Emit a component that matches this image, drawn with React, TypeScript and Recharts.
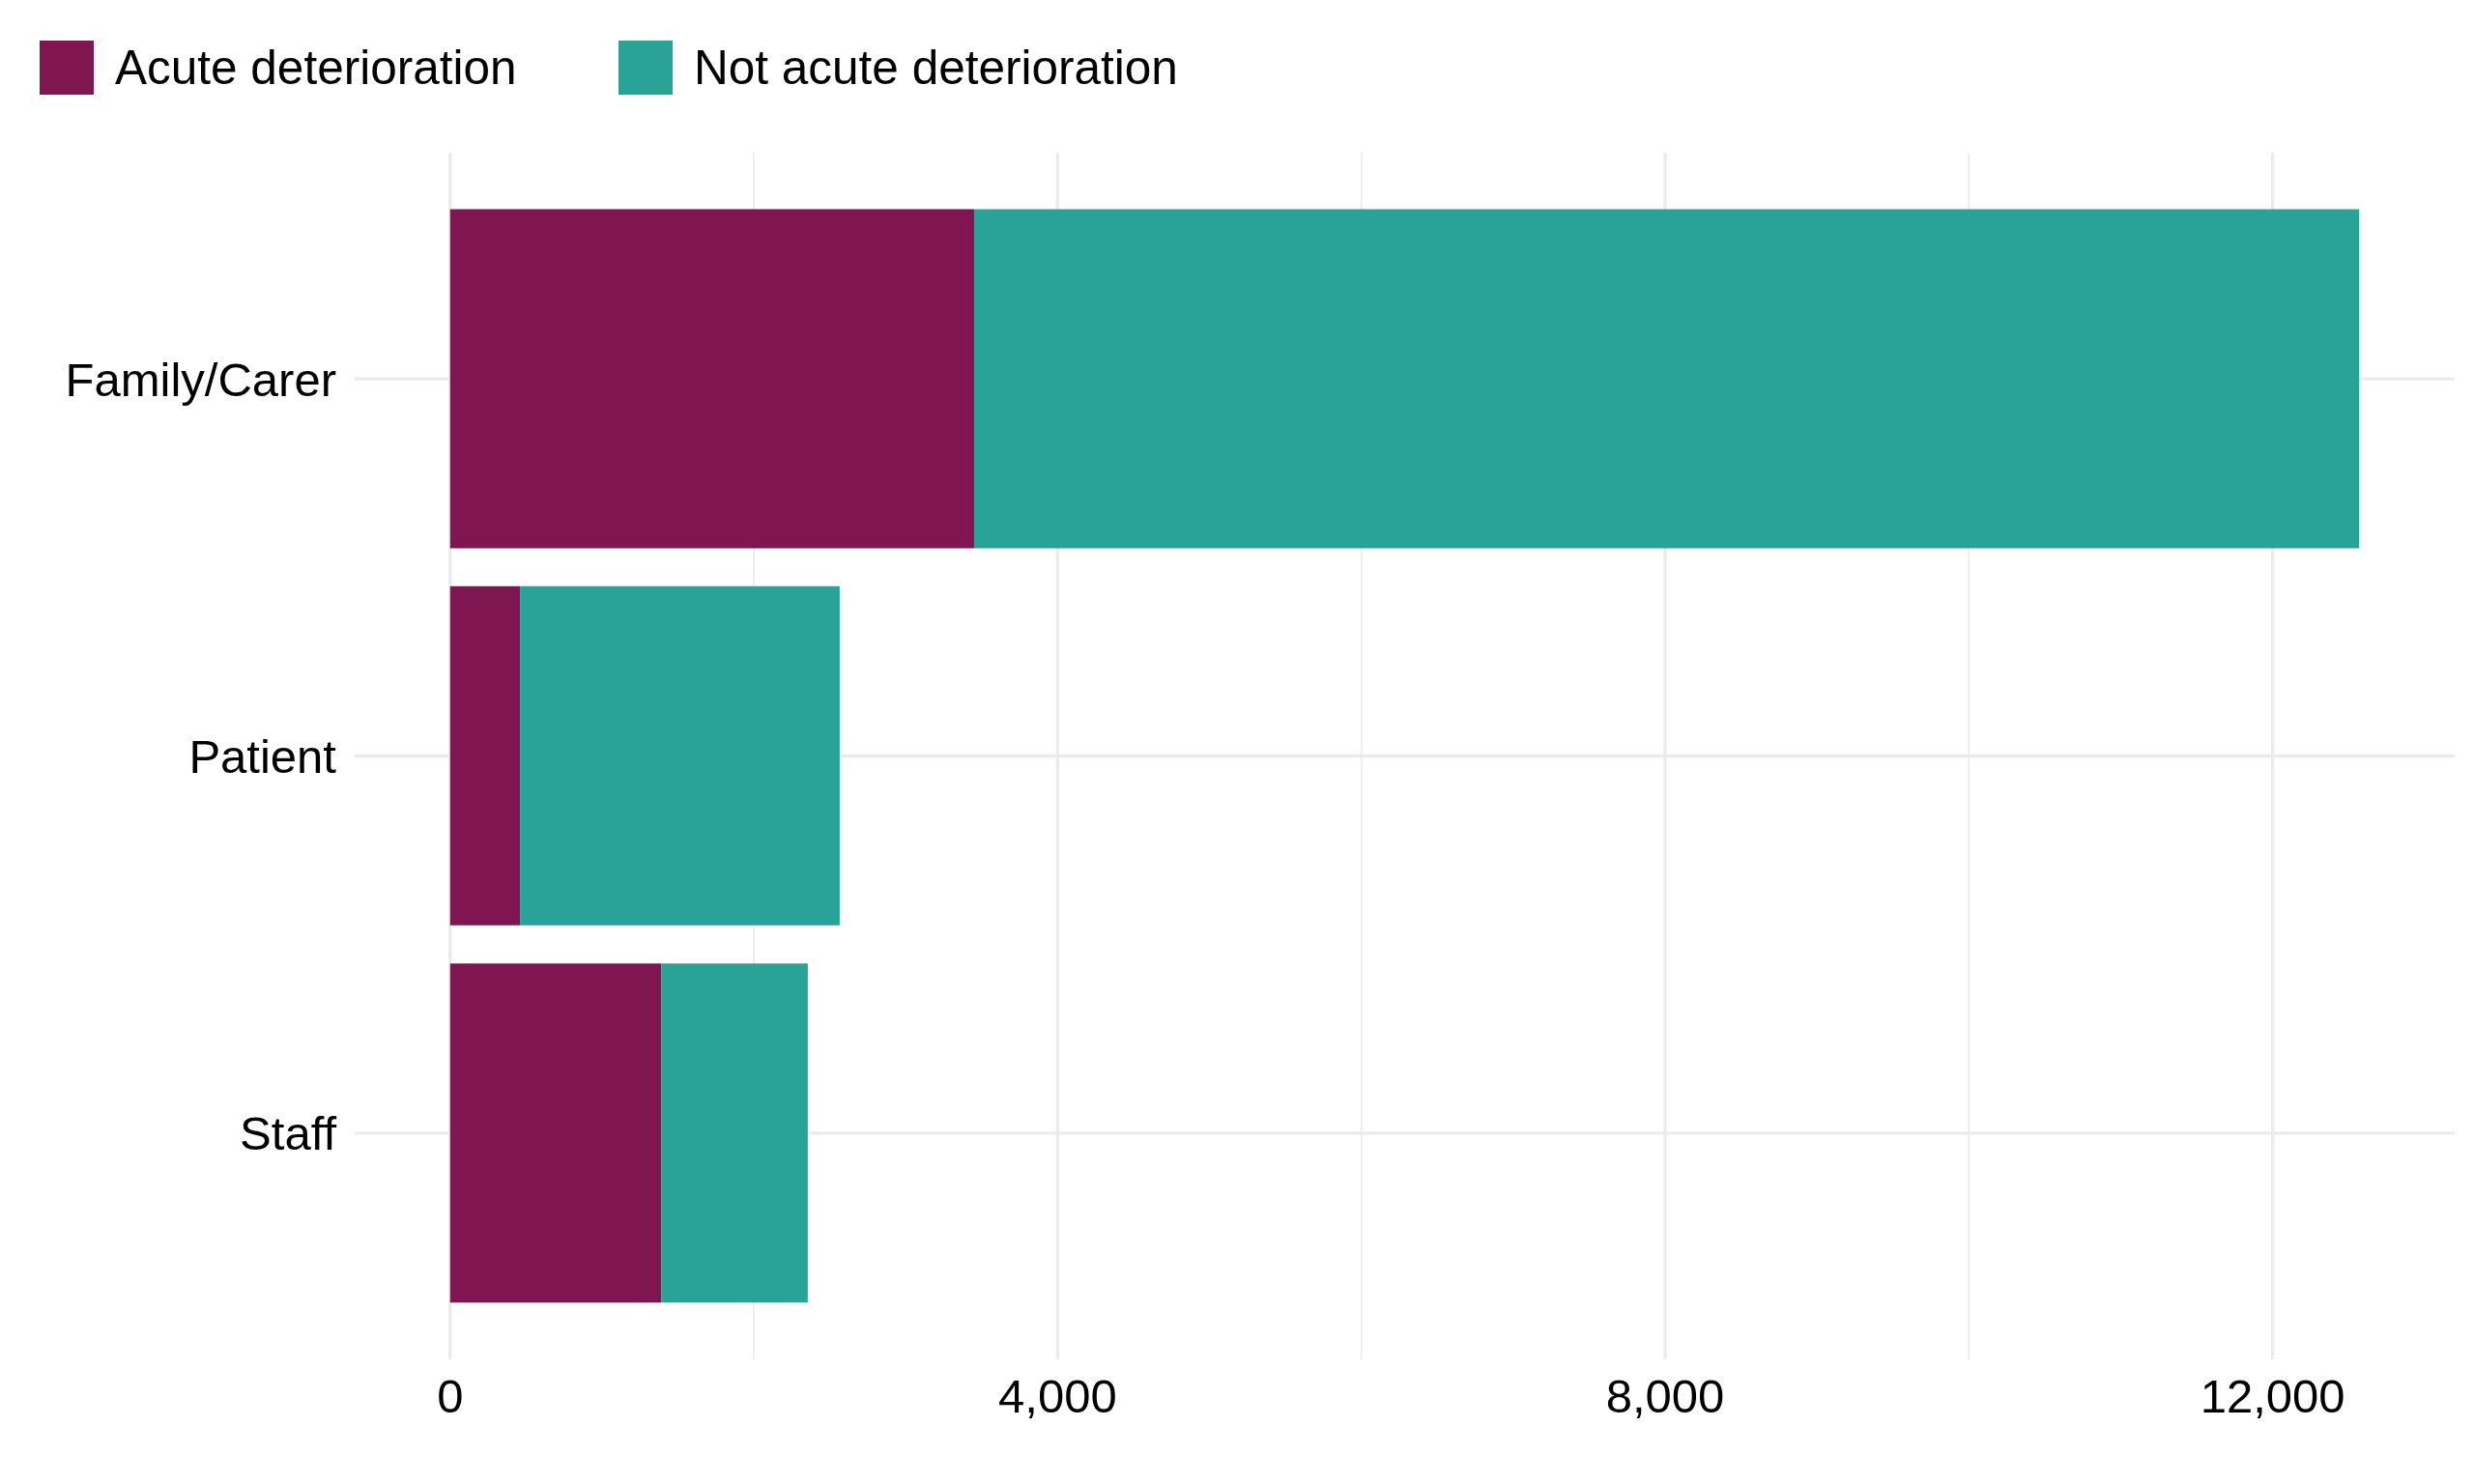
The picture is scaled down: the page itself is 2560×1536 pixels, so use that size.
import { Bar, BarChart, CartesianGrid, Legend, XAxis, YAxis } from 'recharts'

const sources = ['Family/Carer', 'Patient', 'Staff']
const acute = [3450, 460, 1390]
const notAcute = [9120, 2105, 965]
const xTicks = [0, 2000, 4000, 6000, 8000, 10000, 12000]

const ACUTE = '#7F1651'
const NOT_ACUTE = '#29A397'
const GRID = '#EBEBEB'
const FONT = '"Liberation Sans", Arial, Helvetica, sans-serif'

const data = sources.map((source, i) => ({
  source,
  acute: acute[i],
  notAcute: notAcute[i],
}))

// ggplot-style 5% expansion on the value axis
const maxTotal = Math.max(...sources.map((_, i) => acute[i] + notAcute[i]))
const pad = maxTotal * 0.05
const xDomain = [-pad, maxTotal + pad]

const fmt = (v: number) => (v % 4000 === 0 ? v.toLocaleString('en-US') : '')

function LegendContent({ payload }: { payload?: any[] }) {
  return (
    <div style={{ height: 138, position: 'relative', fontFamily: FONT }}>
      <div style={{ position: 'absolute', top: 42, left: 41, display: 'flex' }}>
        {(payload ?? []).map((p, i) => (
          <div
            key={p.value}
            style={{ display: 'flex', alignItems: 'center', width: i === 0 ? 599 : 'auto' }}
          >
            <div style={{ width: 56, height: 56, background: p.color }} />
            <span style={{ marginLeft: 22, fontSize: 49.5, color: '#000', lineHeight: '56px' }}>
              {p.value}
            </span>
          </div>
        ))}
      </div>
    </div>
  )
}

// major lines on labelled ticks, thinner minor lines in between
function verticalLine(props: any) {
  const minor = props.index % 2 === 1
  return (
    <line
      key={props.key}
      x1={props.x1}
      x2={props.x2}
      y1={props.y1}
      y2={props.y2}
      stroke={GRID}
      strokeWidth={minor ? 1.7 : 3.3}
    />
  )
}

export default function App() {
  return (
    <div
      style={{
        position: 'absolute',
        top: 0,
        left: 0,
        width: 2560,
        height: 1536,
        background: '#fff',
        fontFamily: FONT,
      }}
    >
      <BarChart
        width={2560}
        height={1536}
        data={data}
        layout="vertical"
        margin={{ top: 20, right: 20, bottom: 29, left: 27 }}
        barCategoryGap="5%"
      >
        <CartesianGrid
          stroke={GRID}
          strokeWidth={3.3}
          vertical={verticalLine}
          syncWithTicks
        />
        <XAxis
          type="number"
          domain={xDomain}
          ticks={xTicks}
          tickFormatter={fmt}
          axisLine={false}
          tickLine={false}
          tickSize={0}
          tickMargin={20}
          height={100}
          interval={0}
          tick={{ fontSize: 49, fill: '#000' }}
        />
        <YAxis
          type="category"
          dataKey="source"
          axisLine={false}
          tickLine={false}
          tickSize={0}
          tickMargin={19}
          width={340}
          padding={{ top: 39, bottom: 39 }}
          tick={{ fontSize: 49, fill: '#000' }}
        />
        <Legend
          verticalAlign="top"
          align="left"
          wrapperStyle={{ top: 0, left: 0 }}
          content={<LegendContent />}
        />
        <Bar
          dataKey="acute"
          name="Acute deterioration"
          stackId="a"
          fill={ACUTE}
          isAnimationActive={false}
        />
        <Bar
          dataKey="notAcute"
          name="Not acute deterioration"
          stackId="a"
          fill={NOT_ACUTE}
          isAnimationActive={false}
        />
      </BarChart>
    </div>
  )
}
